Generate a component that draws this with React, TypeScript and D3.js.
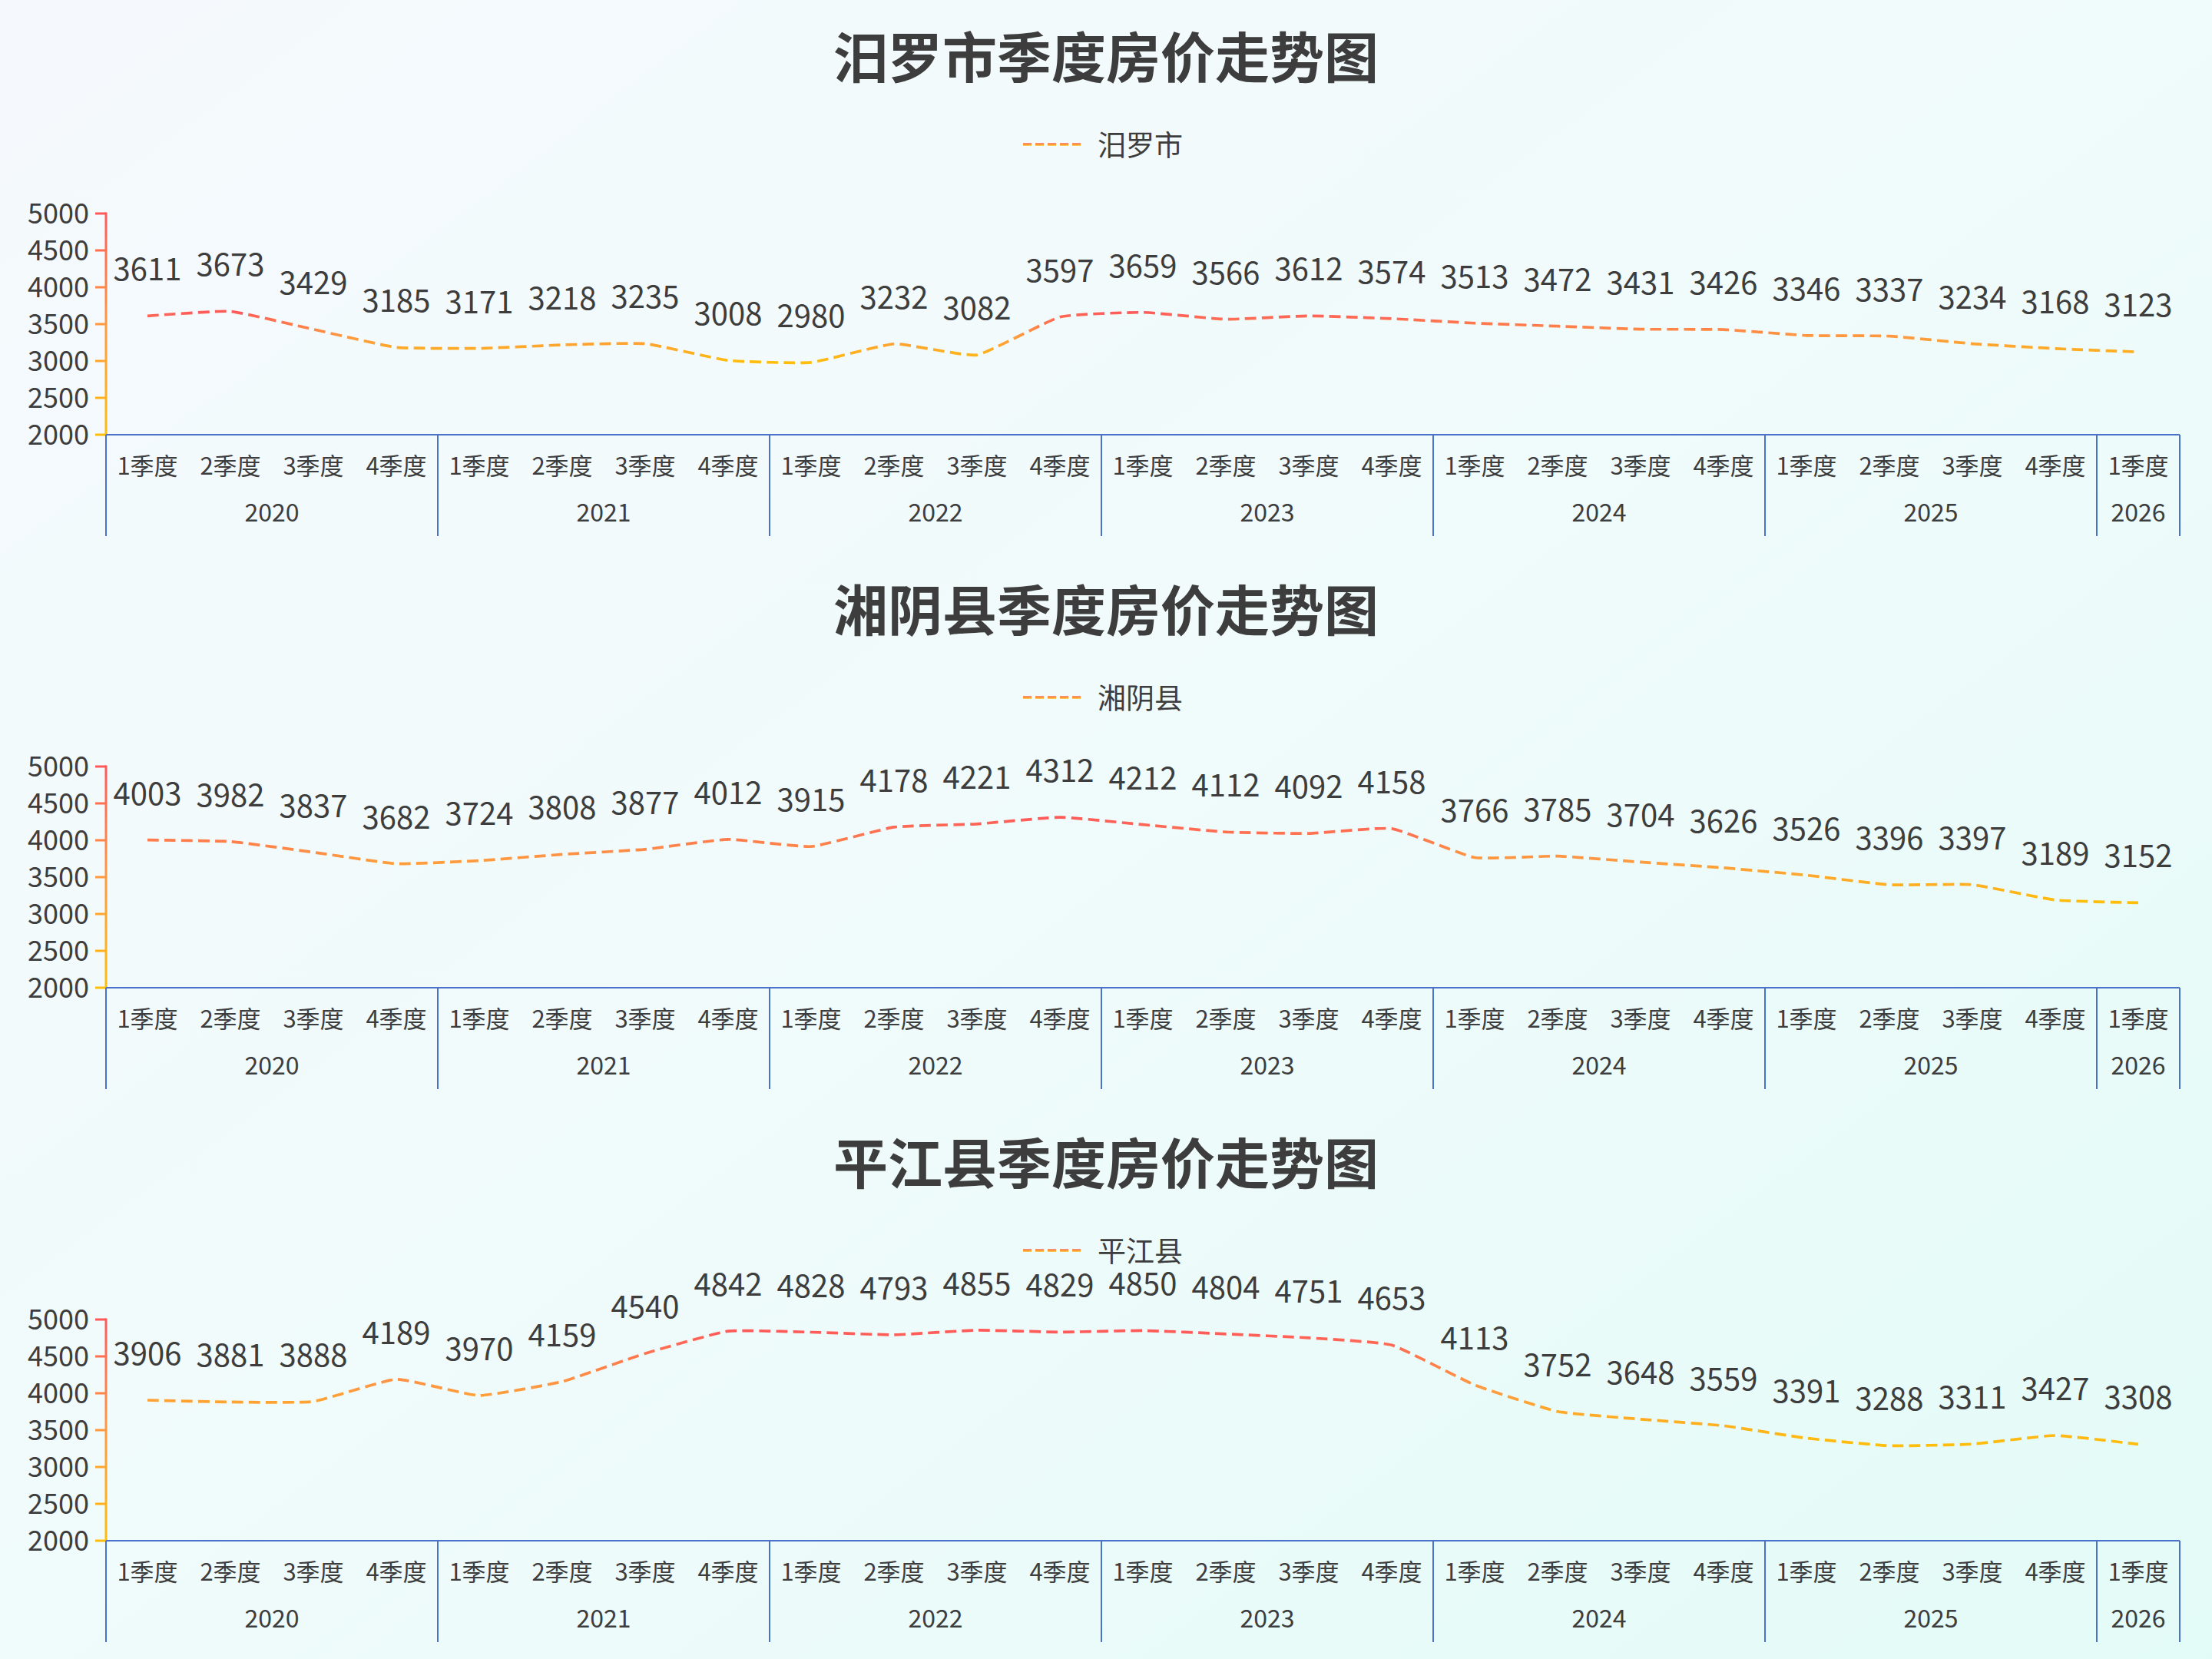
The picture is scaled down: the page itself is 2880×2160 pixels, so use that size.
import React from 'react';
import * as d3 from 'd3';

const regionNames = ['汨罗市', '湘阴县', '平江县'];
const chartTitles = ['汨罗市季度房价走势图', '湘阴县季度房价走势图', '平江县季度房价走势图'];

const categoryYears = [
  '2020', '2020', '2020', '2020',
  '2021', '2021', '2021', '2021',
  '2022', '2022', '2022', '2022',
  '2023', '2023', '2023', '2023',
  '2024', '2024', '2024', '2024',
  '2025', '2025', '2025', '2025',
  '2026',
];
const categoryQuarters = [
  '1季度', '2季度', '3季度', '4季度',
  '1季度', '2季度', '3季度', '4季度',
  '1季度', '2季度', '3季度', '4季度',
  '1季度', '2季度', '3季度', '4季度',
  '1季度', '2季度', '3季度', '4季度',
  '1季度', '2季度', '3季度', '4季度',
  '1季度',
];

const miluoValues = [3611, 3673, 3429, 3185, 3171, 3218, 3235, 3008, 2980, 3232, 3082, 3597, 3659, 3566, 3612, 3574, 3513, 3472, 3431, 3426, 3346, 3337, 3234, 3168, 3123];
const xiangyinValues = [4003, 3982, 3837, 3682, 3724, 3808, 3877, 4012, 3915, 4178, 4221, 4312, 4212, 4112, 4092, 4158, 3766, 3785, 3704, 3626, 3526, 3396, 3397, 3189, 3152];
const pingjiangValues = [3906, 3881, 3888, 4189, 3970, 4159, 4540, 4842, 4828, 4793, 4855, 4829, 4850, 4804, 4751, 4653, 4113, 3752, 3648, 3559, 3391, 3288, 3311, 3427, 3308];

const seriesValues = [miluoValues, xiangyinValues, pingjiangValues];
const yTicks = [2000, 2500, 3000, 3500, 4000, 4500, 5000];
const yDomain = [2000, 5000];

const W = 2880;
const H = 2160;
const PANEL_H = 720;
const PLOT_LEFT = 138;
const PLOT_RIGHT = 2838;
const PLOT_TOP = 278;
const PLOT_BOTTOM = 566;
const FONT = '"Microsoft YaHei", "Noto Sans CJK SC", "Noto Sans", sans-serif';
const TEXT = '#3d3d3d';
const AXIS_BLUE = '#4a72c8';
const GRAD = [
  { o: '0%', c: '#FF5A5A' },
  { o: '50%', c: '#FF9A40' },
  { o: '100%', c: '#FFBE0B' },
];

function Panel({ index }: { index: number }) {
  const values = seriesValues[index];
  const idx = values.map((_, i) => String(i));
  const x = d3.scaleBand<string>().domain(idx).range([PLOT_LEFT, PLOT_RIGHT]);
  const y = d3.scaleLinear().domain(yDomain).range([PLOT_BOTTOM, PLOT_TOP]);
  const cx = (i: number) => (x(String(i)) as number) + x.bandwidth() / 2;

  const line = d3
    .line<number>()
    .x((_, i) => cx(i))
    .y((v) => y(v))
    .curve(d3.curveCardinal.tension(0.6));

  const vMax = d3.max(values) as number;
  const vMin = d3.min(values) as number;

  const groups: { year: string; start: number; end: number }[] = [];
  categoryYears.forEach((yr, i) => {
    const g = groups[groups.length - 1];
    if (g && g.year === yr) g.end = i;
    else groups.push({ year: yr, start: i, end: i });
  });
  const boundaries = groups.map((g) => x(String(g.start)) as number);
  boundaries.push(PLOT_RIGHT);

  const lineGradId = `lineGrad${index}`;
  const axisGradId = `axisGrad${index}`;
  const legGradId = `legGrad${index}`;
  const legendY = 188;

  return (
    <g transform={`translate(0,${index * PANEL_H})`}>
      <defs>
        <linearGradient id={lineGradId} gradientUnits="userSpaceOnUse" x1={0} x2={0} y1={y(vMax)} y2={y(vMin)}>
          {GRAD.map((s) => (
            <stop key={s.o} offset={s.o} stopColor={s.c} />
          ))}
        </linearGradient>
        <linearGradient id={axisGradId} gradientUnits="userSpaceOnUse" x1={0} x2={0} y1={PLOT_TOP} y2={PLOT_BOTTOM}>
          {GRAD.map((s) => (
            <stop key={s.o} offset={s.o} stopColor={s.c} />
          ))}
        </linearGradient>
        <linearGradient id={legGradId} gradientUnits="userSpaceOnUse" x1={0} x2={0} y1={legendY - 2} y2={legendY + 2}>
          {GRAD.map((s) => (
            <stop key={s.o} offset={s.o} stopColor={s.c} />
          ))}
        </linearGradient>
      </defs>

      <text
        x={W / 2}
        y={70}
        textAnchor="middle"
        dominantBaseline="central"
        fontFamily={FONT}
        fontWeight="bold"
        fontSize={71}
        fill={TEXT}
      >
        {chartTitles[index]}
      </text>

      {/* legend */}
      <line
        x1={1332}
        x2={1407}
        y1={legendY}
        y2={legendY}
        stroke={`url(#${legGradId})`}
        strokeWidth={3.7}
        strokeDasharray="11 5"
      />
      <text x={1429} y={legendY - 1} dominantBaseline="central" fontFamily={FONT} fontSize={37} fill={TEXT}>
        {regionNames[index]}
      </text>

      {/* y axis */}
      <g>
        <line x1={PLOT_LEFT} x2={PLOT_LEFT} y1={PLOT_TOP - 1.5} y2={PLOT_BOTTOM} stroke={`url(#${axisGradId})`} strokeWidth={3} />
        {yTicks.map((t) => (
          <g key={t}>
            <rect x={PLOT_LEFT - 14} y={y(t) - 1.5} width={14} height={3} fill={`url(#${axisGradId})`} />
            <text
              x={116}
              y={y(t) - 3}
              textAnchor="end"
              dominantBaseline="central"
              fontFamily={FONT}
              fontSize={36}
              fill={TEXT}
            >
              {t}
            </text>
          </g>
        ))}
      </g>

      {/* x axis */}
      <line x1={PLOT_LEFT} x2={PLOT_RIGHT} y1={PLOT_BOTTOM} y2={PLOT_BOTTOM} stroke={AXIS_BLUE} strokeWidth={2} />
      {boundaries.map((bx, i) => (
        <line key={i} x1={bx} x2={bx} y1={PLOT_BOTTOM} y2={698} stroke={AXIS_BLUE} strokeWidth={2} />
      ))}
      {categoryQuarters.map((q, i) => (
        <text
          key={i}
          x={cx(i)}
          y={604}
          textAnchor="middle"
          dominantBaseline="central"
          fontFamily={FONT}
          fontSize={31}
          fill={TEXT}
        >
          {q}
        </text>
      ))}
      {groups.map((g) => (
        <text
          key={g.year}
          x={((x(String(g.start)) as number) + (x(String(g.end)) as number) + x.bandwidth()) / 2}
          y={665}
          textAnchor="middle"
          dominantBaseline="central"
          fontFamily={FONT}
          fontSize={32}
          fill={TEXT}
        >
          {g.year}
        </text>
      ))}

      {/* series */}
      <path
        d={line(values) || ''}
        fill="none"
        stroke={`url(#${lineGradId})`}
        strokeWidth={3.7}
        strokeDasharray="14.7 7.3"
      />
      {values.map((v, i) => (
        <text
          key={i}
          x={cx(i)}
          y={y(v) - 63}
          textAnchor="middle"
          dominantBaseline="central"
          fontFamily={FONT}
          fontSize={40}
          fill={TEXT}
        >
          {v}
        </text>
      ))}
    </g>
  );
}

export default function App() {
  return (
    <svg
      width={W}
      height={H}
      viewBox={`0 0 ${W} ${H}`}
      style={{ position: 'absolute', left: 0, top: 0, display: 'block' }}
    >
      <defs>
        <linearGradient id="bgGrad" x1="0" y1="0" x2="1" y2="1">
          <stop offset="0%" stopColor="#F5F9FD" />
          <stop offset="50%" stopColor="#F0FBFB" />
          <stop offset="100%" stopColor="#E3FBF7" />
        </linearGradient>
      </defs>
      <rect x={0} y={0} width={W} height={H} fill="url(#bgGrad)" />
      {[0, 1, 2].map((i) => (
        <Panel key={i} index={i} />
      ))}
    </svg>
  );
}
